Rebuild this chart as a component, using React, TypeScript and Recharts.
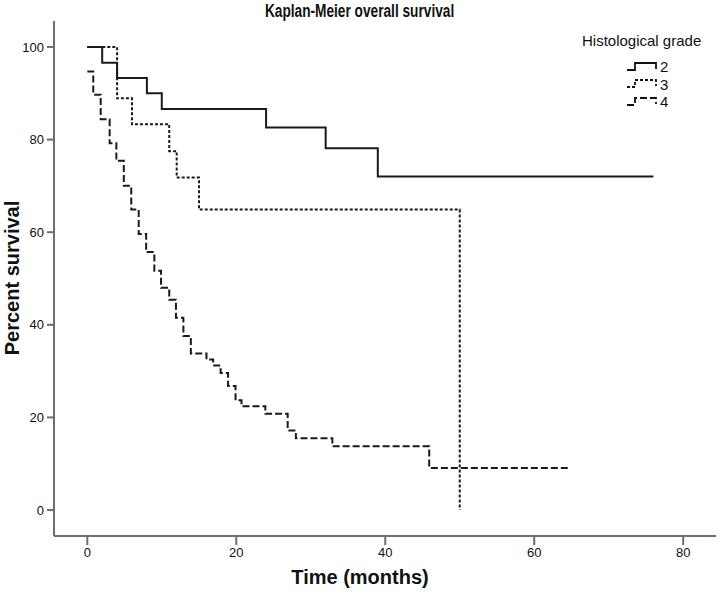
import { LineChart, Line, XAxis, YAxis } from 'recharts';

// Kaplan-Meier step points: time (months) and percent survival
const grade2Time = [0, 2, 4, 8, 10, 24, 32, 39, 76];
const grade2Surv = [100, 96.6, 93.3, 90, 86.6, 82.6, 78.1, 72, 72];

const grade3Time = [0, 4, 6, 11, 12, 15, 50];
const grade3Surv = [100, 88.9, 83.3, 77.5, 71.8, 64.9, 0];

const grade4Time = [0, 0.8, 1.8, 3, 3.9, 4.9, 5.9, 6.9, 7.9, 9, 9.9, 11, 11.9, 12.9, 13.9, 16, 16.9, 17.9, 18.9, 19.9, 20.7, 23.9, 26.9, 28, 32.9, 45.9, 64.5];
const grade4Surv = [94.7, 89.7, 84.4, 79.2, 75.4, 70, 64.9, 59.6, 55.7, 51.7, 48, 45.4, 41.5, 37.6, 33.8, 32.5, 31.2, 29.6, 26.8, 23.7, 22.4, 20.8, 17.2, 15.5, 13.8, 9.1, 9.1];

const xTicks = [0, 20, 40, 60, 80];
const yTicks = [0, 20, 40, 60, 80, 100];

const series = [
  { name: '2', time: grade2Time, surv: grade2Surv, dash: undefined },
  { name: '3', time: grade3Time, surv: grade3Surv, dash: '3 2' },
  { name: '4', time: grade4Time, surv: grade4Surv, dash: '7 3' },
];

const FONT = "'Liberation Sans', Arial, sans-serif";
const AXIS = '#6e6e6e';

function LegendBox() {
  return (
    <div style={{ position: 'absolute', left: 582, top: 32, fontFamily: FONT, color: '#111' }}>
      <div style={{ fontSize: 15, lineHeight: '18px', marginBottom: 8 }}>Histological grade</div>
      {series.map((s) => (
        <div key={s.name} style={{ display: 'flex', alignItems: 'center', height: 17.5, marginLeft: 44 }}>
          <svg width={32} height={12}>
            <path
              d="M1,9 H9 V2 H30 V8"
              fill="none"
              stroke="#111"
              strokeWidth={1.8}
              strokeDasharray={s.dash}
            />
          </svg>
          <span style={{ fontSize: 15, marginLeft: 2 }}>{s.name}</span>
        </div>
      ))}
    </div>
  );
}

export default function App() {
  return (
    <div style={{ position: 'absolute', left: 0, top: 0, width: 720, height: 595, background: '#fff' }}>
      <div
        style={{
          position: 'absolute', left: 0, top: 0, width: 720, textAlign: 'center',
          fontFamily: FONT, fontWeight: 'bold', fontSize: 18, lineHeight: '22px', color: '#111',
        }}
      >
        <span style={{ display: 'inline-block', transform: 'scaleX(0.76)' }}>
          Kaplan-Meier overall survival
        </span>
      </div>
      <LineChart width={720} height={595} margin={{ top: 21, right: 4, left: 0, bottom: 0 }}>
        <XAxis
          type="number"
          dataKey="t"
          domain={[-4.47, 84.4]}
          allowDataOverflow
          ticks={xTicks}
          height={59}
          tickSize={9}
          tickMargin={3}
          stroke={AXIS}
          strokeWidth={2}
          tick={{ fill: '#111', fontSize: 13, fontFamily: FONT }}
        />
        <YAxis
          type="number"
          domain={[-5.6, 105.6]}
          allowDataOverflow
          ticks={yTicks}
          width={54}
          tickSize={7}
          tickMargin={3}
          stroke={AXIS}
          strokeWidth={2}
          tick={{ fill: '#111', fontSize: 13, fontFamily: FONT }}
        />
        {series.map((s) => (
          <Line
            key={s.name}
            data={s.time.map((t, i) => ({ t, s: s.surv[i] }))}
            dataKey="s"
            type="stepAfter"
            stroke="#1a1a1a"
            strokeWidth={2}
            strokeDasharray={s.dash}
            dot={false}
            isAnimationActive={false}
          />
        ))}
      </LineChart>
      <LegendBox />
      <div
        style={{
          position: 'absolute', left: 12, top: 278, transform: 'translate(-50%, -50%) rotate(-90deg)',
          whiteSpace: 'nowrap', fontFamily: FONT, fontWeight: 'bold', fontSize: 20, color: '#111',
        }}
      >
        Percent survival
      </div>
      <div
        style={{
          position: 'absolute', left: 0, top: 565, width: 720, textAlign: 'center',
          fontFamily: FONT, fontWeight: 'bold', fontSize: 20, lineHeight: '24px', color: '#111',
        }}
      >
        Time (months)
      </div>
    </div>
  );
}
